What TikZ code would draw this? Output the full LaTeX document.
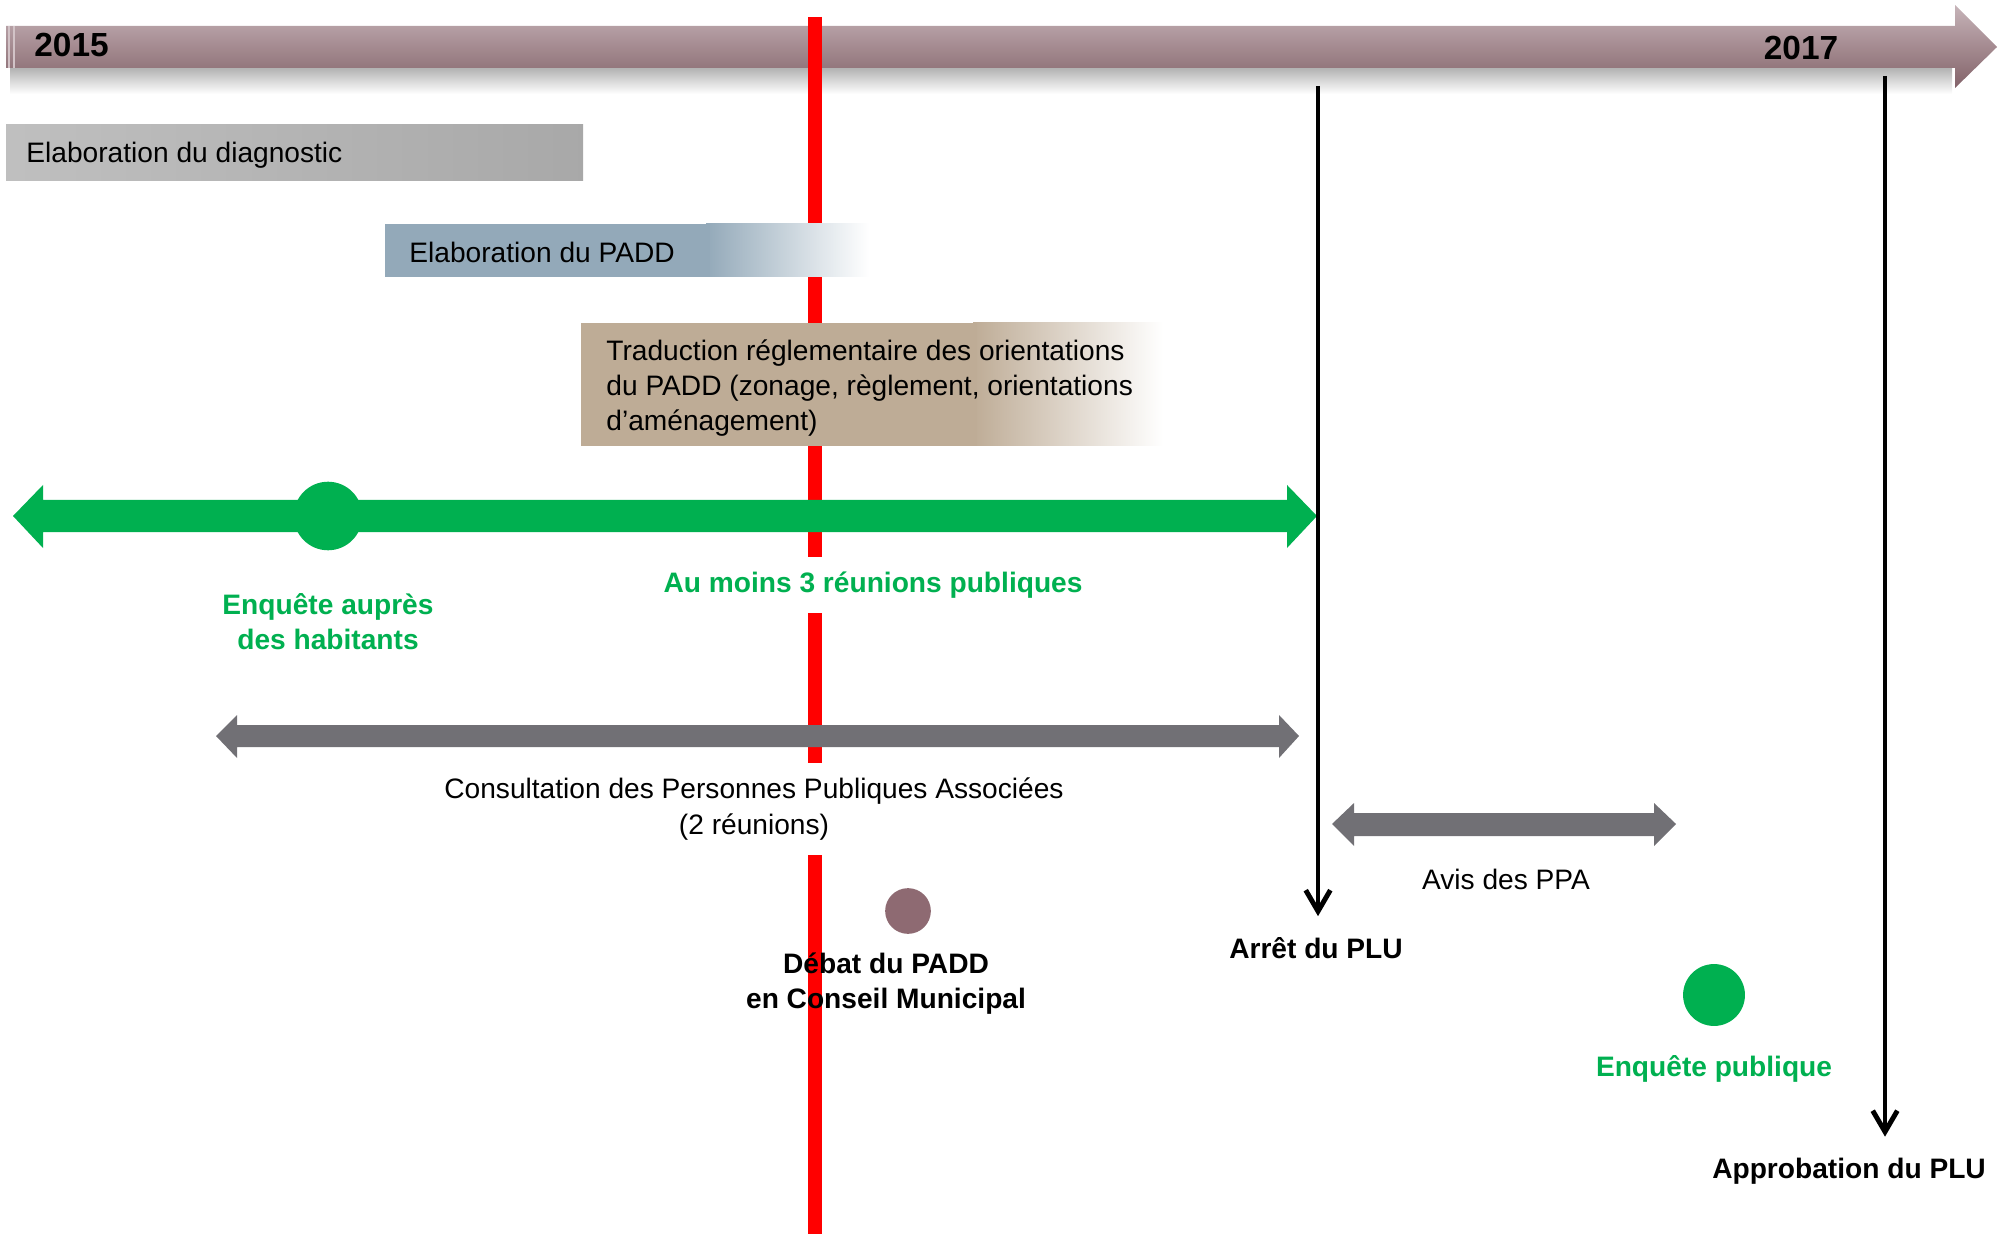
\documentclass[tikz,border=0pt]{standalone}
\usepackage{fontspec}
\setmainfont{Liberation Sans}
\usetikzlibrary{arrows.meta}
\definecolor{plumbar}{HTML}{8E6A72}
\definecolor{redline}{HTML}{FF0000}
\definecolor{diaggray}{HTML}{8A8A8A}
\definecolor{paddblue}{HTML}{93A9B9}
\definecolor{tradtan}{HTML}{BEAC96}
\definecolor{greenpl}{HTML}{00B050}
\definecolor{grayarr}{HTML}{717075}
\tikzset{
  lbl/.style={font=\fontsize{8}{10}\selectfont, align=center},
  boldlbl/.style={font=\fontsize{8}{10}\selectfont\bfseries, align=center},
  greenlbl/.style={boldlbl, text=greenpl},
  yearlbl/.style={font=\fontsize{9.5}{11}\selectfont\bfseries},
  whitebg/.style={fill=white, inner ysep=4.3pt},
  dot/.style={circle, inner sep=0pt},
  blackarr/.style={-{Straight Barb[length=6pt, width=7pt]}, line width=1.4pt}
}
\begin{document}
\begin{tikzpicture}[x=0.01cm, y=-0.01cm]
                        \useasboundingbox (0,0) rectangle (2004,1234);

                        \shade[top color=black!30, bottom color=white] (10,68) rectangle (1952,94);
                        \shade[top color=plumbar!50!white, middle color=plumbar, bottom color=plumbar!92!black]
                            (6,26) -- (1955,26) -- (1955,5) -- (1997,47) -- (1955,88) -- (1955,68) -- (6,68) -- cycle;
                        \draw[plumbar!40!white, line width=0.6pt] (9,26) -- (9,68) (14,26) -- (14,68);
                        \node[yearlbl, anchor=west] (y2015) at (22,45) {2015};
                        \node[yearlbl] (y2017) at (1801,48) {2017};

                        \coordinate (rtop) at (815,17);
                        \coordinate (rbot) at (815,1234);
                        \draw[redline, line width=4pt] (rtop) -- (rbot);

                        \shade[left color=gray!50, middle color=diaggray, right color=gray!68] (6,125) rectangle (583,181);
                        \node[lbl, anchor=west] (diag) at (14,155) {Elaboration du diagnostic};

                        \shade[left color=paddblue, right color=white] (706,224) rectangle (869,277);
                        \fill[paddblue] (385,224) rectangle (710,277);
                        \node[lbl, anchor=west] (padd) at (397,252) {Elaboration du PADD};

                        \shade[left color=tradtan, right color=white] (973,323) rectangle (1163,446);
                        \fill[tradtan] (581,323) rectangle (977,446);
                        \node[lbl, anchor=west, align=left] (trad) at (594,388)
                            {Traduction réglementaire des orientations\\du PADD (zonage, règlement, orientations\\d’aménagement)};

                        \fill[greenpl] (13,516) -- (43,485) -- (43,500) -- (1287,500) -- (1287,485) -- (1317,516)
                            -- (1287,548) -- (1287,532) -- (43,532) -- (43,548) -- cycle;
                        \node[dot, fill=greenpl, minimum size=19.5pt] (hab) at (328,516) {};
                        \node[greenlbl] (enqhab) at (328,622) {Enquête auprès\\des habitants};
                        \node[greenlbl, whitebg] (reun) at (873,585) {Au moins 3 réunions publiques};

                        \fill[grayarr] (216,736) -- (237,715) -- (237,725) -- (1279,725) -- (1279,715) -- (1299,736)
                            -- (1279,758) -- (1279,747) -- (237,747) -- (237,758) -- cycle;
                        \node[lbl, whitebg] (ppa) at (754,809) {Consultation des Personnes Publiques Associées\\(2 réunions)};

                        \fill[grayarr] (1332,824) -- (1354,803) -- (1354,813) -- (1654,813) -- (1654,803) -- (1676,824)
                            -- (1654,846) -- (1654,836) -- (1354,836) -- (1354,846) -- cycle;
                        \node[lbl] (avis) at (1506,879) {Avis des PPA};

                        \node[dot, fill=plumbar, minimum size=13pt] (deb) at (908,911) {};
                        \node[boldlbl] (debat) at (886,984) {Débat du PADD\\en Conseil Municipal};

                        \coordinate (arrtop) at (1318,86);
                        \node[boldlbl] (arret) at (1316,948) {Arrêt du PLU};
                        \draw[blackarr, shorten >=2.5pt] (arrtop) -- (arrtop |- arret.north);

                        \node[dot, fill=greenpl, minimum size=17.6pt] (pub) at (1714,995) {};
                        \node[greenlbl] (enqpub) at (1714,1069) {Enquête publique};

                        \coordinate (apptop) at (1885,76);
                        \node[boldlbl] (appr) at (1849,1171) {Approbation du PLU};
                        \draw[blackarr, shorten >=2.5pt] (apptop) -- (apptop |- appr.north);
                    \end{tikzpicture}
\end{document}
